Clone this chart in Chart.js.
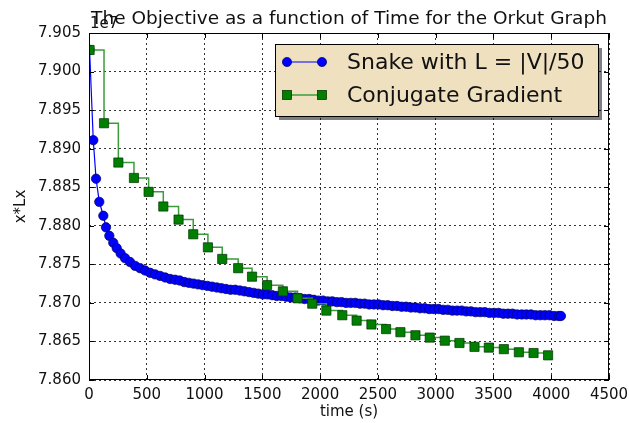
<!DOCTYPE html>
<html>
<head>
<meta charset="utf-8">
<script src="https://cdn.jsdelivr.net/npm/chart.js@4.4.1/dist/chart.umd.min.js"></script>
<style>
  html, body { margin: 0; padding: 0; background: #fff; }
  #wrap { width: 629px; height: 423px; }
</style>
</head>
<body>
<div id="wrap"><canvas id="chart" width="629" height="423"></canvas></div>
<script>
// Objective (x*Lx, in units of 1e7) against time for the Orkut graph
const TITLE = 'The Objective as a function of Time for the Orkut Graph';
const SERIES_NAMES = ['Snake with L = |V|/50', 'Conjugate Gradient'];

const xTicks = [0, 500, 1000, 1500, 2000, 2500, 3000, 3500, 4000, 4500];
const yTicks = [7.860, 7.865, 7.870, 7.875, 7.880, 7.885, 7.890, 7.895, 7.900, 7.905];

const snakeTime = [
  5, 37, 61, 89, 124, 147, 176, 210, 240, 274,
  312, 355, 399, 442, 485, 529, 572, 615, 659, 702,
  745, 785, 825, 865, 905, 945, 985, 1025, 1065, 1105,
  1145, 1185, 1225, 1265, 1305, 1345, 1385, 1425, 1465, 1505,
  1545, 1585, 1625, 1665, 1705, 1745, 1785, 1825, 1865, 1905,
  1945, 1985, 2025, 2065, 2105, 2145, 2185, 2225, 2265, 2305,
  2345, 2385, 2425, 2465, 2505, 2545, 2585, 2625, 2665, 2705,
  2745, 2785, 2825, 2865, 2905, 2945, 2985, 3025, 3065, 3105,
  3145, 3185, 3225, 3265, 3305, 3345, 3385, 3425, 3465, 3505,
  3545, 3585, 3625, 3665, 3705, 3745, 3785, 3825, 3865, 3905,
  3945, 3985, 4025, 4065, 4084
];
const snakeObj = [
  7.9028, 7.8911, 7.8861, 7.8831, 7.8813, 7.8798, 7.8787, 7.8778, 7.8771, 7.8764,
  7.8758, 7.8753, 7.8748, 7.8745, 7.8742, 7.8739, 7.8737, 7.8735, 7.8733, 7.8731,
  7.8730, 7.8729, 7.8727, 7.8726, 7.8725, 7.8724, 7.8723, 7.8722, 7.8721, 7.8720,
  7.8719, 7.8718, 7.8717, 7.8717, 7.8716, 7.8715, 7.8714, 7.8713, 7.8712, 7.8711,
  7.8711, 7.8710, 7.8709, 7.8709, 7.8708, 7.8707, 7.8707, 7.8706, 7.8705, 7.8705,
  7.8704, 7.8703, 7.8703, 7.8702, 7.8702, 7.8701, 7.8701, 7.8700, 7.8700, 7.8700,
  7.8699, 7.8699, 7.8698, 7.8698, 7.8698, 7.8697, 7.8697, 7.8696, 7.8696, 7.8695,
  7.8695, 7.8694, 7.8694, 7.8693, 7.8693, 7.8692, 7.8692, 7.8692, 7.8691, 7.8691,
  7.8690, 7.8690, 7.8690, 7.8689, 7.8689, 7.8688, 7.8688, 7.8688, 7.8687, 7.8687,
  7.8687, 7.8686, 7.8686, 7.8686, 7.8685, 7.8685, 7.8685, 7.8685, 7.8684, 7.8684,
  7.8684, 7.8684, 7.8683, 7.8683, 7.8683
];

const cgTime = [
  5, 130, 254, 389, 516, 643, 775, 902, 1029, 1153,
  1291, 1411, 1541, 1678, 1805, 1932, 2054, 2192, 2316, 2444,
  2571, 2695, 2825, 2949, 3079, 3206, 3336, 3460, 3590, 3720,
  3847, 3973
];
const cgObj = [
  7.9028, 7.8933, 7.8882, 7.8862, 7.8844, 7.8825, 7.8808, 7.8789, 7.8772, 7.8757,
  7.8745, 7.8734, 7.8723, 7.8715, 7.8706, 7.8699, 7.8690, 7.8684, 7.8677, 7.8672,
  7.8666, 7.8662, 7.8658, 7.8655, 7.8651, 7.8648, 7.8643, 7.8642, 7.8640, 7.8636,
  7.8635, 7.8632
];

const FONT = '"DejaVu Sans", "Liberation Sans", sans-serif';
const BLUE = '#0000ff';
const BLUE_EDGE = '#000060';
const GREEN = '#007f00';
const GREEN_EDGE = '#003000';
const GREEN_LINE = '#3c9c3c';
const LEGEND_BG = 'rgb(239, 224, 191)';

function pairs(xs, ys) {
  return xs.map((x, i) => ({ x: x, y: ys[i] }));
}

// frame, inward ticks, title, offset text, axis labels and the legend box
const decor = {
  id: 'decor',
  afterDraw(chart) {
    const { ctx, chartArea: a, scales } = chart;
    const L = Math.round(a.left), R = Math.round(a.right);
    const T = Math.round(a.top), B = Math.round(a.bottom);
    ctx.save();

    // axes frame
    ctx.strokeStyle = '#000';
    ctx.lineWidth = 1;
    ctx.strokeRect(L + 0.5, T + 0.5, R - L - 1, B - T - 1);

    // tick marks pointing in, on all four sides
    ctx.beginPath();
    xTicks.forEach(v => {
      const px = Math.round(scales.x.getPixelForValue(v)) + 0.5;
      ctx.moveTo(px, B); ctx.lineTo(px, B - 5);
      ctx.moveTo(px, T); ctx.lineTo(px, T + 5);
    });
    yTicks.forEach(v => {
      const py = Math.round(scales.y.getPixelForValue(v)) + 0.5;
      ctx.moveTo(L, py); ctx.lineTo(L + 5, py);
      ctx.moveTo(R, py); ctx.lineTo(R - 5, py);
    });
    ctx.stroke();

    ctx.fillStyle = '#111';

    // title
    ctx.font = '18.5px ' + FONT;
    ctx.textAlign = 'center';
    ctx.textBaseline = 'alphabetic';
    ctx.fillText(TITLE, (a.left + a.right) / 2, 24);

    // scale offset
    ctx.font = '15px ' + FONT;
    ctx.textAlign = 'left';
    ctx.fillText('1e7', 90, 28);

    // axis labels
    ctx.textAlign = 'center';
    ctx.textBaseline = 'middle';
    ctx.fillText('time (s)', (a.left + a.right) / 2, 412);
    ctx.save();
    ctx.translate(21, (a.top + a.bottom) / 2);
    ctx.rotate(-Math.PI / 2);
    ctx.fillText('x*Lx', 0, 0);
    ctx.restore();

    // legend with drop shadow
    const bx = 275, by = 44, bw = 323, bh = 72;
    ctx.fillStyle = 'rgba(0, 0, 0, 0.5)';
    ctx.fillRect(bx + 4, by + 4, bw, bh);
    ctx.fillStyle = LEGEND_BG;
    ctx.fillRect(bx, by, bw, bh);
    ctx.strokeStyle = '#000';
    ctx.strokeRect(bx + 0.5, by + 0.5, bw, bh);

    const rows = [62, 95];
    const x1 = 287, x2 = 322;
    // snake row
    ctx.strokeStyle = BLUE;
    ctx.lineWidth = 1.2;
    ctx.beginPath(); ctx.moveTo(x1, rows[0]); ctx.lineTo(x2, rows[0]); ctx.stroke();
    [x1, x2].forEach(px => {
      ctx.beginPath();
      ctx.arc(px, rows[0], 4.6, 0, Math.PI * 2);
      ctx.fillStyle = BLUE; ctx.fill();
      ctx.strokeStyle = BLUE_EDGE; ctx.lineWidth = 0.7; ctx.stroke();
    });
    // conjugate gradient row
    ctx.strokeStyle = GREEN_LINE;
    ctx.lineWidth = 1.5;
    ctx.beginPath(); ctx.moveTo(x1, rows[1]); ctx.lineTo(x2, rows[1]); ctx.stroke();
    [x1, x2].forEach(px => {
      ctx.fillStyle = GREEN;
      ctx.fillRect(px - 4.6, rows[1] - 4.6, 9.2, 9.2);
      ctx.strokeStyle = GREEN_EDGE; ctx.lineWidth = 0.7;
      ctx.strokeRect(px - 4.6, rows[1] - 4.6, 9.2, 9.2);
    });

    ctx.fillStyle = '#111';
    ctx.font = '22px ' + FONT;
    ctx.textAlign = 'left';
    ctx.textBaseline = 'middle';
    ctx.fillText(SERIES_NAMES[0], 347, rows[0] + 1);
    ctx.fillText(SERIES_NAMES[1], 347, rows[1] + 1);

    ctx.restore();
  }
};

new Chart(document.getElementById('chart'), {
  type: 'line',
  data: {
    datasets: [
      {
        label: SERIES_NAMES[0],
        data: pairs(snakeTime, snakeObj),
        borderColor: BLUE,
        borderWidth: 1.2,
        backgroundColor: BLUE,
        pointBackgroundColor: BLUE,
        pointBorderColor: BLUE_EDGE,
        pointBorderWidth: 0.7,
        pointRadius: 4.7,
        pointStyle: 'circle',
        tension: 0,
        order: 2,
      },
      {
        label: SERIES_NAMES[1],
        data: pairs(cgTime, cgObj),
        borderColor: GREEN_LINE,
        borderWidth: 1.5,
        backgroundColor: GREEN,
        pointBackgroundColor: GREEN,
        pointBorderColor: GREEN_EDGE,
        pointBorderWidth: 0.7,
        pointRadius: 6.5,
        pointStyle: 'rect',
        stepped: 'before',
        order: 1,
      },
    ],
  },
  options: {
    responsive: false,
    animation: false,
    devicePixelRatio: 1,
    layout: { padding: { left: 0, top: 33, right: 20, bottom: 0 } },
    plugins: {
      legend: { display: false },
      title: { display: false },
      tooltip: { enabled: false },
    },
    scales: {
      x: {
        type: 'linear',
        min: 0,
        max: 4500,
        afterBuildTicks: s => { s.ticks = xTicks.map(v => ({ value: v })); },
        afterFit: s => { s.height = 43; s.paddingLeft = 0; s.paddingRight = 0; },
        grid: { color: 'rgba(0, 0, 0, 0.8)', lineWidth: 1, drawTicks: false },
        border: { display: false, dash: [2, 3] },
        ticks: {
          padding: 6,
          color: '#111',
          font: { family: FONT, size: 15 },
          maxRotation: 0,
          callback: v => String(v),
        },
      },
      y: {
        type: 'linear',
        min: 7.860,
        max: 7.905,
        afterBuildTicks: s => { s.ticks = yTicks.map(v => ({ value: v })); },
        afterFit: s => { s.width = 89; s.paddingTop = 0; s.paddingBottom = 0; },
        grid: { color: 'rgba(0, 0, 0, 0.8)', lineWidth: 1, drawTicks: false },
        border: { display: false, dash: [2, 3] },
        ticks: {
          padding: 8,
          color: '#111',
          font: { family: FONT, size: 15 },
          callback: v => Number(v).toFixed(3),
        },
      },
    },
  },
  plugins: [decor],
});
</script>
</body>
</html>
